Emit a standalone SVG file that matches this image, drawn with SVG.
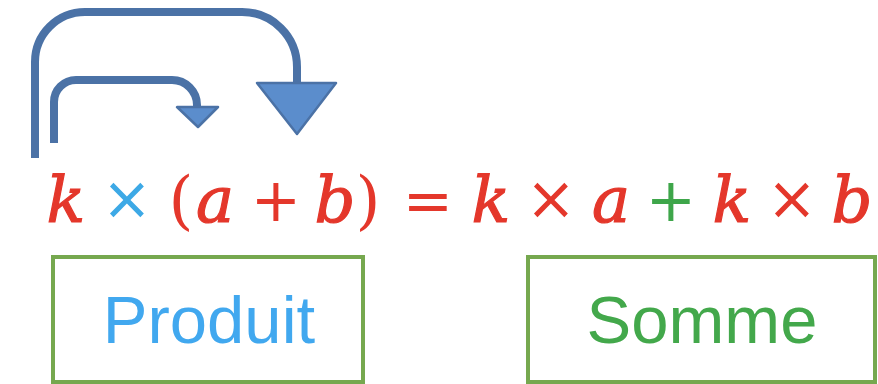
<svg xmlns="http://www.w3.org/2000/svg" width="878" height="384" viewBox="0 0 878 384">
<style>
.conn{fill:none;stroke:#4b72a6;stroke-width:8}
.head{fill:#5b8dcc;stroke:#4b72a6;stroke-width:2.5;stroke-linejoin:round}
.box{fill:#fff;stroke:#76a84f;stroke-width:4}
.lbl{font-family:"Liberation Sans",Arial,sans-serif;font-size:67px;text-anchor:middle}
.m{font-family:"DejaVu Serif","Liberation Serif",serif;font-size:64px;text-anchor:middle;fill:#e4372b}
.v{font-style:italic;stroke:#e4372b;stroke-width:1.2}
.op{font-family:"DejaVu Sans","Liberation Sans",sans-serif;font-size:60px}
</style>
<rect width="878" height="384" fill="#fff"/>
<g id="connectors">
<path class="conn" d="M35,158 V62 A50,50 0 0 1 85,12 H242 A55,55 0 0 1 297,67 V86"/>
<polygon class="head" points="257,83 336,83 297,134"/>
<path class="conn" d="M54,143 V102 A22,22 0 0 1 76,80 H172 A25,25 0 0 1 197,105 V109"/>
<polygon class="head" points="177,107 218,107 198,127"/>
</g>
<g id="equation">
<text class="m v" x="66" y="222">k</text>
<text class="m op" x="127" y="219" style="fill:#3da9e6">×</text>
<text class="m" x="181" y="222">(</text>
<text class="m v" x="215" y="222">a</text>
<text class="m op" x="276" y="221">+</text>
<text class="m v" x="335" y="222">b</text>
<text class="m" x="368" y="222">)</text>
<text class="m op" x="428" y="221">=</text>
<text class="m v" x="491" y="222">k</text>
<text class="m op" x="551" y="219">×</text>
<text class="m v" x="611" y="222">a</text>
<text class="m op" x="671" y="221" style="fill:#3ea64a">+</text>
<text class="m v" x="732" y="222">k</text>
<text class="m op" x="792" y="219">×</text>
<text class="m v" x="852" y="222">b</text>
</g>
<g id="produit">
<rect class="box" x="53" y="257" width="310" height="125"/>
<text class="lbl" x="209" y="343" fill="#41a8ef">Produit</text>
</g>
<g id="somme">
<rect class="box" x="528" y="257" width="347" height="125"/>
<text class="lbl" x="702" y="343" fill="#43a84b">Somme</text>
</g>
</svg>
